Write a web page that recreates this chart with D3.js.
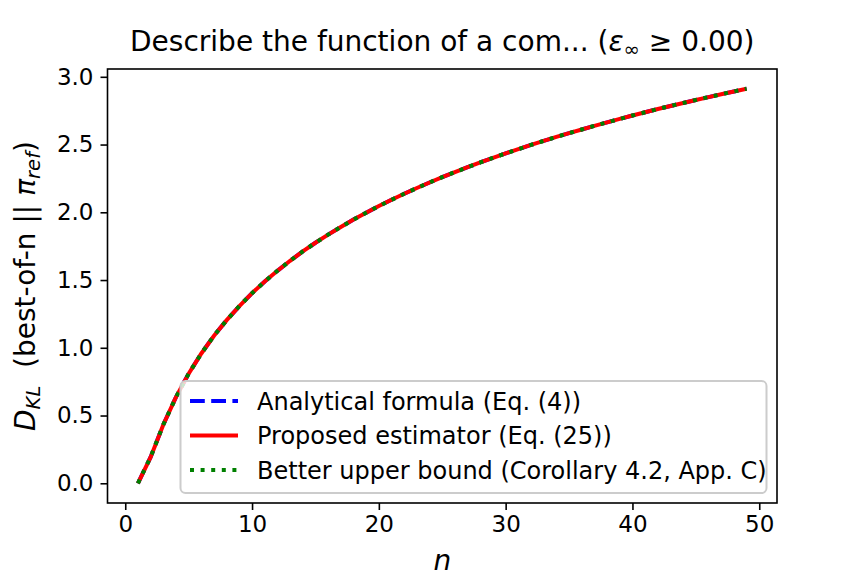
<!DOCTYPE html>
<html lang="en">
<head>
    <meta charset="utf-8">
    <title>Best-of-n KL divergence</title>
    <script src="https://d3js.org/d3.v7.min.js"></script>
    <style>
        body { margin: 0; background: #fff; }
        svg { font-family: "DejaVu Sans", sans-serif; }
        .tick text { font-size: 23px; fill: #000; }
    </style>
</head>
<body>
    <div id="chart"></div>

    <script>
        // n values and KL(best-of-n || ref)
        const nValues = [1, 2, 3, 4, 5, 6, 7, 8, 9, 10,
            11, 12, 13, 14, 15, 16, 17, 18, 19, 20,
            21, 22, 23, 24, 25, 26, 27, 28, 29, 30,
            31, 32, 33, 34, 35, 36, 37, 38, 39, 40,
            41, 42, 43, 44, 45, 46, 47, 48, 49];

        const analytical = [0.000, 0.193, 0.432, 0.636, 0.809, 0.958, 1.089, 1.204, 1.308, 1.403,
            1.489, 1.568, 1.642, 1.711, 1.775, 1.835, 1.892, 1.946, 1.997, 2.046,
            2.092, 2.137, 2.179, 2.220, 2.259, 2.297, 2.333, 2.368, 2.402, 2.435,
            2.466, 2.497, 2.527, 2.556, 2.584, 2.611, 2.638, 2.664, 2.689, 2.714,
            2.738, 2.762, 2.785, 2.807, 2.829, 2.850, 2.871, 2.892, 2.912];

        const proposed = [0.000, 0.193, 0.432, 0.636, 0.809, 0.958, 1.089, 1.204, 1.308, 1.403,
            1.489, 1.568, 1.642, 1.711, 1.775, 1.835, 1.892, 1.946, 1.997, 2.046,
            2.092, 2.137, 2.179, 2.220, 2.259, 2.297, 2.333, 2.368, 2.402, 2.435,
            2.466, 2.497, 2.527, 2.556, 2.584, 2.611, 2.638, 2.664, 2.689, 2.714,
            2.738, 2.762, 2.785, 2.807, 2.829, 2.850, 2.871, 2.892, 2.912];

        const upperBound = [0.000, 0.193, 0.432, 0.636, 0.809, 0.958, 1.089, 1.204, 1.308, 1.403,
            1.489, 1.568, 1.642, 1.711, 1.775, 1.835, 1.892, 1.946, 1.997, 2.046,
            2.092, 2.137, 2.179, 2.220, 2.259, 2.297, 2.333, 2.368, 2.402, 2.435,
            2.466, 2.497, 2.527, 2.556, 2.584, 2.611, 2.638, 2.664, 2.689, 2.714,
            2.738, 2.762, 2.785, 2.807, 2.829, 2.850, 2.871, 2.892, 2.912];

        const xTicks = [0, 10, 20, 30, 40, 50];
        const yTicks = [0.0, 0.5, 1.0, 1.5, 2.0, 2.5, 3.0];

        const seriesNames = ["Analytical formula (Eq. (4))", "Proposed estimator (Eq. (25))", "Better upper bound (Corollary 4.2, App. C)"];

        const series = [
            {name: seriesNames[0], values: analytical, color: "#0000ff", dash: "14.8,6.4"},
            {name: seriesNames[1], values: proposed, color: "#ff0000", dash: null},
            {name: seriesNames[2], values: upperBound, color: "#008000", dash: "4,6.6"}
        ];

        const width = 864;
        const height = 576;
        const margin = {top: 69, right: 87, bottom: 73, left: 107.5};
        const plotW = width - margin.left - margin.right;
        const plotH = height - margin.top - margin.bottom;

        const svg = d3.select("#chart").append("svg")
            .attr("width", width)
            .attr("height", height)
            .attr("viewBox", [0, 0, width, height]);

        svg.append("rect").attr("width", width).attr("height", height).attr("fill", "#fff");

        // matplotlib-style 5% margins around the data
        const allY = series.flatMap(s => s.values);
        const xMin = d3.min(nValues), xMax = d3.max(nValues);
        const yMin = d3.min(allY), yMax = d3.max(allY);
        const xPad = (xMax - xMin) * 0.05, yPad = (yMax - yMin) * 0.05;

        const x = d3.scaleLinear().domain([xMin - xPad, xMax + xPad]).range([0, plotW]);
        const y = d3.scaleLinear().domain([yMin - yPad, yMax + yPad]).range([plotH, 0]);

        const g = svg.append("g").attr("transform", `translate(${margin.left},${margin.top})`);

        // lines
        const line = d3.line()
            .x((d, i) => x(nValues[i]))
            .y(d => y(d));

        g.append("g").selectAll("path")
            .data(series)
            .join("path")
            .attr("fill", "none")
            .attr("stroke", d => d.color)
            .attr("stroke-width", 4)
            .attr("stroke-dasharray", d => d.dash)
            .attr("d", d => line(d.values));

        // axes
        const xAxis = g.append("g")
            .attr("transform", `translate(0,${plotH})`)
            .call(d3.axisBottom(x).tickValues(xTicks).tickFormat(d3.format("d")).tickSize(7).tickPadding(6));

        const yAxis = g.append("g")
            .call(d3.axisLeft(y).tickValues(yTicks).tickFormat(d3.format(".1f")).tickSize(7).tickPadding(7));

        [xAxis, yAxis].forEach(ax => {
            ax.select(".domain").remove();
            ax.selectAll(".tick line").attr("stroke", "#000").attr("stroke-width", 1.6);
            ax.selectAll(".tick text").attr("font-family", "DejaVu Sans");
        });

        // frame
        g.append("rect")
            .attr("width", plotW)
            .attr("height", plotH)
            .attr("fill", "none")
            .attr("stroke", "#000")
            .attr("stroke-width", 1.6);

        // title
        const title = svg.append("text")
            .attr("x", margin.left + plotW / 2)
            .attr("y", 51)
            .attr("text-anchor", "middle")
            .attr("font-size", 28);
        title.append("tspan").text("Describe the function of a com... (");
        title.append("tspan").attr("font-style", "italic").text("ε");
        title.append("tspan").attr("font-size", 19.6).attr("dy", 5).text("∞");
        title.append("tspan").attr("dy", -5).text(" ≥ 0.00)");

        // x label
        svg.append("text")
            .attr("x", margin.left + plotW / 2)
            .attr("y", 570)
            .attr("text-anchor", "middle")
            .attr("font-size", 28)
            .attr("font-style", "italic")
            .text("n");

        // y label
        const ylab = svg.append("text")
            .attr("transform", `translate(35,${margin.top + plotH / 2}) rotate(-90)`)
            .attr("text-anchor", "middle")
            .attr("font-size", 28);
        ylab.append("tspan").attr("font-style", "italic").text("D");
        ylab.append("tspan").attr("font-style", "italic").attr("font-size", 19.6).attr("dy", 5).text("KL");
        ylab.append("tspan").attr("dy", -5).attr("xml:space", "preserve").text("  (best-of-n || ");
        ylab.append("tspan").attr("font-style", "italic").text("π");
        ylab.append("tspan").attr("font-style", "italic").attr("font-size", 19.6).attr("dy", 5).text("ref");
        ylab.append("tspan").attr("dy", -5).text(")");

        // legend
        const legend = svg.append("g").attr("transform", "translate(180.5,381)");
        legend.append("rect")
            .attr("width", 586)
            .attr("height", 112)
            .attr("rx", 5)
            .attr("fill", "#fff")
            .attr("fill-opacity", 0.8)
            .attr("stroke", "#cccccc")
            .attr("stroke-width", 2);

        const rows = legend.selectAll(".row")
            .data(series)
            .join("g")
            .attr("class", "row")
            .attr("transform", (d, i) => `translate(0,${20 + i * 34.5})`);

        rows.append("line")
            .attr("x1", 9.5).attr("x2", 57.5)
            .attr("stroke", d => d.color)
            .attr("stroke-width", 4)
            .attr("stroke-dasharray", d => d.dash);

        rows.append("text")
            .attr("x", 76.5)
            .attr("dy", "0.36em")
            .attr("font-size", 24)
            .text(d => d.name);
    </script>
</body>
</html>
